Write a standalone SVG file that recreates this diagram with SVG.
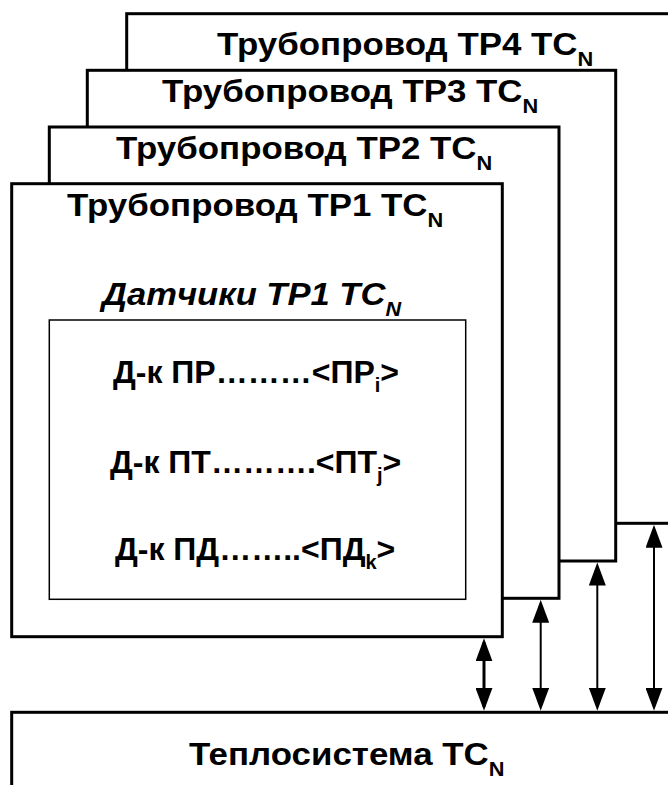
<svg xmlns="http://www.w3.org/2000/svg" width="668" height="785" viewBox="0 0 668 785">
<style>
.box{fill:#fff;stroke:#000;stroke-width:3}
.inner{fill:#fff;stroke:#000;stroke-width:1.5}
.t{font-family:"Liberation Sans",Arial,sans-serif;font-weight:bold;font-size:32px;fill:#000}
.it{font-style:italic}
.sub{font-size:20px}
.subs{font-size:20px}
.ar{stroke:#000;stroke-width:2;fill:none;marker-start:url(#ah);marker-end:url(#ah)}
.ar.thick{stroke-width:3}
</style>
<defs>
<marker id="ah" viewBox="0 0 23 17" refX="19" refY="8.5" markerWidth="23" markerHeight="17" markerUnits="userSpaceOnUse" orient="auto-start-reverse">
<path d="M0,0 L23,8.5 L0,17 z" fill="#000"/>
</marker>
</defs>
<g id="tp4">
<rect class="box" x="126.7" y="13.7" width="600" height="509.6"/>
<text class="t" transform="translate(217,55) scale(1.09,1)">Трубопровод ТР4 ТС<tspan class="sub" dy="11">N</tspan></text>
</g>
<g id="tp3">
<rect class="box" x="87.3" y="70.3" width="528.4" height="490.7"/>
<text class="t" transform="translate(162,102) scale(1.09,1)">Трубопровод ТР3 ТС<tspan class="sub" dy="11">N</tspan></text>
</g>
<g id="tp2">
<rect class="box" x="49.3" y="127" width="509.7" height="471.3"/>
<text class="t" transform="translate(116,159) scale(1.09,1)">Трубопровод ТР2 ТС<tspan class="sub" dy="11">N</tspan></text>
</g>
<g id="tp1">
<rect class="box" x="11.7" y="183.7" width="490.6" height="453"/>
<text class="t" transform="translate(67,216) scale(1.09,1)">Трубопровод ТР1 ТС<tspan class="sub" dy="11">N</tspan></text>
<text class="t it" transform="translate(102,305) scale(1.08,1)">Датчики ТР1 ТС<tspan class="sub" dy="11">N</tspan></text>
</g>
<g id="sensors">
<rect class="inner" x="49.3" y="320" width="416.4" height="279.3"/>
<text class="t" x="113" y="383">Д-к ПР………&lt;ПР<tspan class="subs" dy="9">i</tspan><tspan dy="-9">&gt;</tspan></text>
<text class="t" x="110" y="473">Д-к ПТ……….&lt;ПТ<tspan class="subs" dy="9">j</tspan><tspan dy="-9">&gt;</tspan></text>
<text class="t" x="115" y="560">Д-к ПД……..&lt;ПД<tspan class="subs" dy="9">k</tspan><tspan dy="-9">&gt;</tspan></text>
</g>
<g id="heatsystem">
<rect class="box" x="11.7" y="712.3" width="700" height="100"/>
<text class="t" transform="translate(189,765) scale(1.09,1)">Теплосистема ТС<tspan class="sub" dy="11">N</tspan></text>
</g>
<g id="connectors">
<line class="ar thick" x1="484" y1="642.3" x2="484" y2="706.8"/>
<line class="ar" x1="540.7" y1="603.8" x2="540.7" y2="706.8"/>
<line class="ar" x1="597.3" y1="566.5" x2="597.3" y2="706.8"/>
<line class="ar" x1="654" y1="528.8" x2="654" y2="706.8"/>
</g>
</svg>
